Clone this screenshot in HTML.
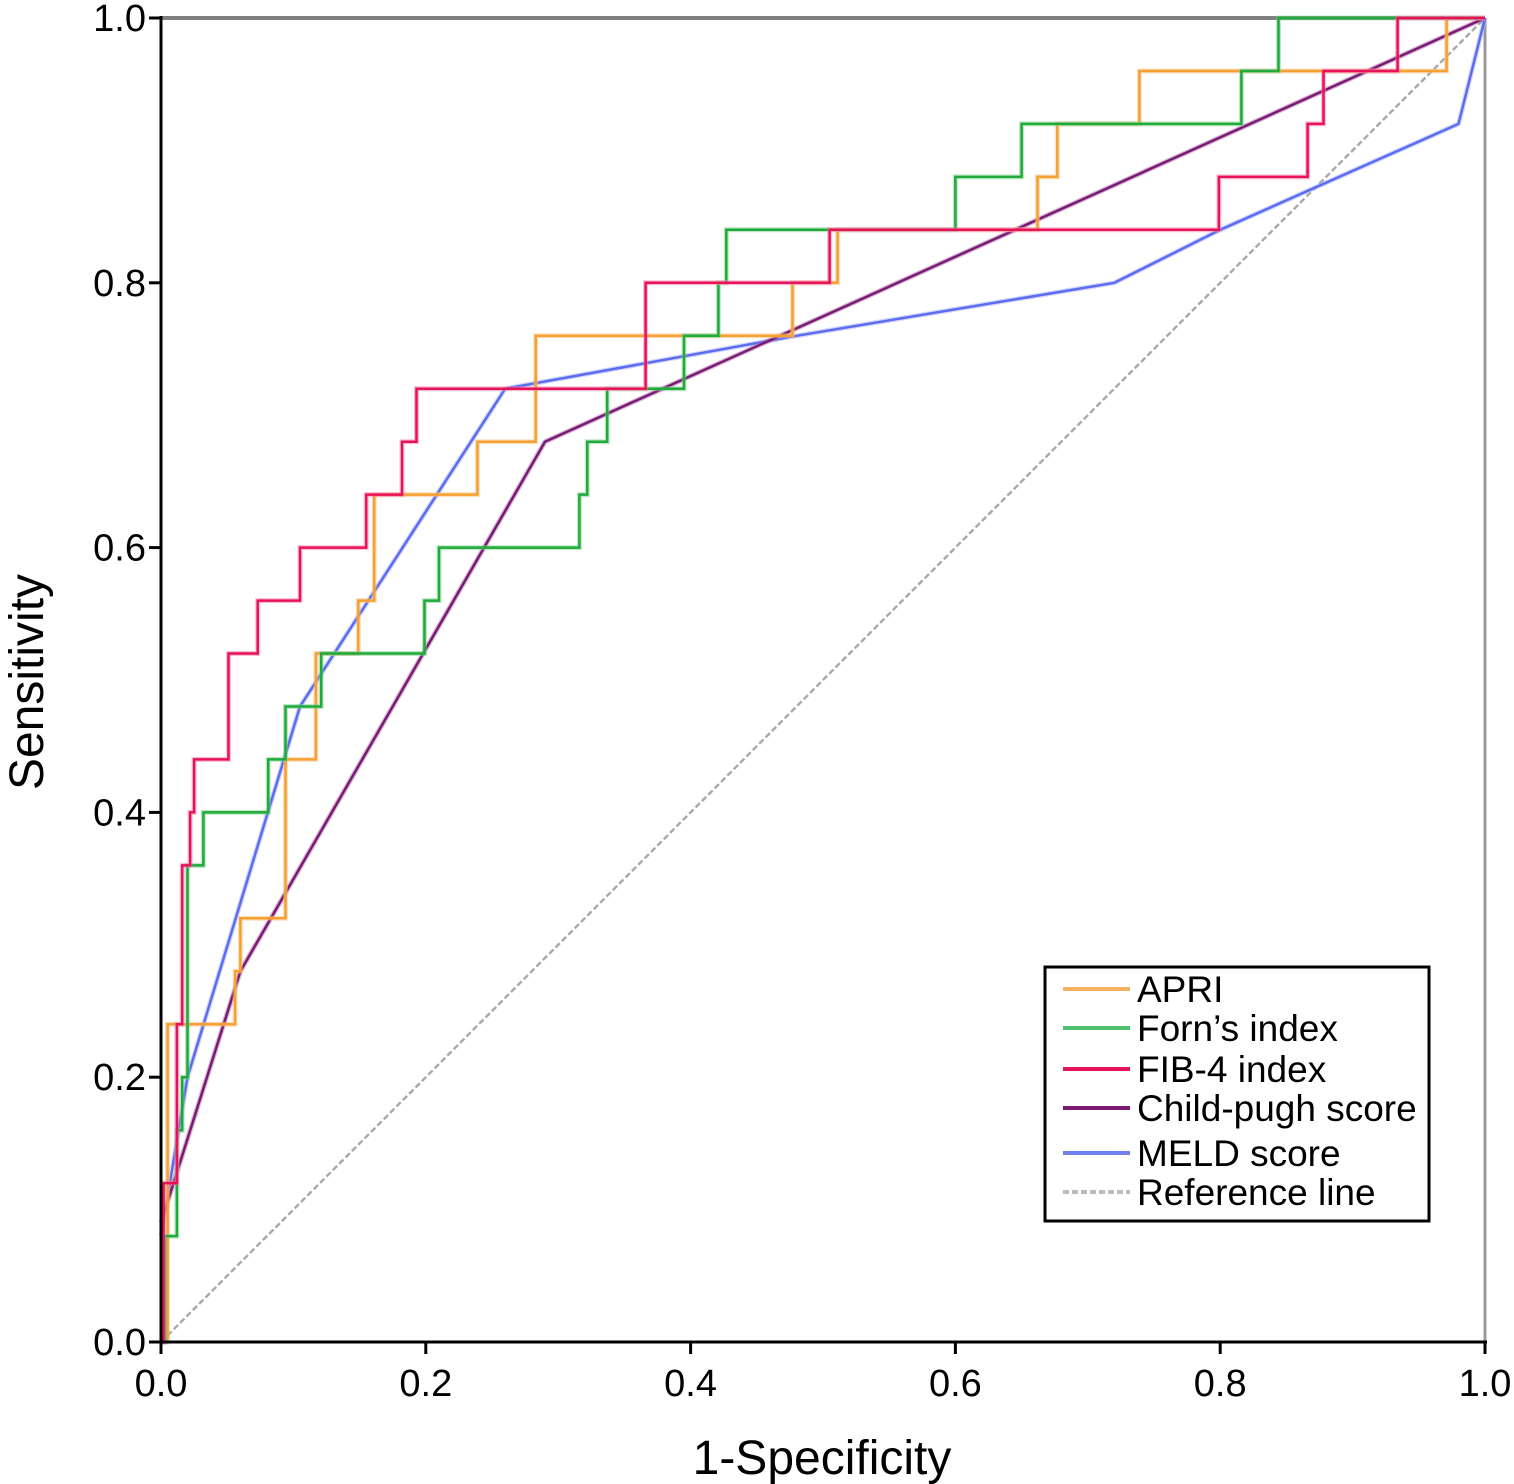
<!DOCTYPE html>
<html><head><meta charset="utf-8"><style>
html,body{margin:0;padding:0;background:#fff;}
svg{display:block;font-family:"Liberation Sans",Arial,sans-serif;}
</style></head><body>
<svg id="chart" width="1514" height="1484" viewBox="0 0 1514 1484" xmlns="http://www.w3.org/2000/svg"></svg>
<script>
const ticks=[0,0.2,0.4,0.6,0.8,1.0];
const tickLabels=["0.0","0.2","0.4","0.6","0.8","1.0"];
const seriesNames=["APRI","Forn’s index","FIB-4 index","Child-pugh score","MELD score","Reference line"];
// step curves: x where each level starts, and the level (sensitivity)
const apriX=[0,0.005,0.056,0.06,0.094,0.117,0.149,0.161,0.239,0.283,0.477,0.511,0.662,0.677,0.739,0.971];
const apriY=[0,0.24,0.28,0.32,0.44,0.52,0.56,0.64,0.68,0.76,0.80,0.84,0.88,0.92,0.96,1.0];
const fornX=[0,0.003,0.012,0.016,0.02,0.032,0.081,0.094,0.121,0.199,0.21,0.316,0.322,0.337,0.395,0.421,0.427,0.6,0.65,0.816,0.844];
const fornY=[0,0.08,0.16,0.20,0.36,0.40,0.44,0.48,0.52,0.56,0.60,0.64,0.68,0.72,0.76,0.80,0.84,0.88,0.92,0.96,1.0];
const fibX=[0,0.002,0.012,0.016,0.022,0.025,0.051,0.073,0.105,0.155,0.182,0.193,0.366,0.505,0.799,0.866,0.878,0.934];
const fibY=[0,0.12,0.24,0.36,0.40,0.44,0.52,0.56,0.60,0.64,0.68,0.72,0.80,0.84,0.88,0.92,0.96,1.0];
const childX=[0,0.06,0.29,1];
const childY=[0.09,0.28,0.68,1];
const meldX=[0,0.02,0.105,0.26,0.48,0.72,0.8,0.98,1];
const meldY=[0.08,0.2,0.48,0.72,0.76,0.80,0.84,0.92,1];
const refX=[0,1];
const refY=[0,1];

const svg=document.getElementById('chart');
const NS='http://www.w3.org/2000/svg';
const X0=161,X1=1485,Y0=1342,Y1=18;
const sx=v=>X0+v*(X1-X0);
const sy=v=>Y0-v*(Y0-Y1);
function mk(tag,attrs,parent){const e=document.createElementNS(NS,tag);for(const k in attrs)e.setAttribute(k,attrs[k]);(parent||svg).appendChild(e);return e;}
function stepPts(xs,ys){
  const p=[];
  for(let i=0;i<xs.length;i++){
    if(i>0) p.push([xs[i],ys[i-1]]);
    p.push([xs[i],ys[i]]);
  }
  p.push([1,ys[ys.length-1]]);
  return p;
}
function linePts(xs,ys){return xs.map((x,i)=>[x,ys[i]]);}

const topBorder=mk('line',{x1:X0,y1:Y1,x2:X1,y2:Y1,stroke:'#808080','stroke-width':4});


const rightBorder=mk('line',{x1:X1,y1:Y1,x2:X1,y2:Y0,stroke:'#999','stroke-width':3});



const ref=mk('polyline',{points:refX.map((x,i)=>sx(x)+','+sy(refY[i])).join(' '),fill:'none',stroke:'#aaa','stroke-width':2.5,'stroke-dasharray':'6,3'});



function series(p,color,halo,name){
  const pts=p.map(q=>sx(q[0]).toFixed(1)+','+sy(q[1]).toFixed(1)).join(' ');
  const g=mk('g',{});
  
  
  mk('polyline',{points:pts,fill:'none',stroke:halo,'stroke-width':5,'stroke-opacity':0.5},g);
  mk('polyline',{points:pts,fill:'none',stroke:color,'stroke-width':2.5},g);
}
series(linePts(meldX,meldY),'#5a6cf0','#a8b0ff','meld-curve');
series(linePts(childX,childY),'#7a1a70','#b070b0','child-pugh-curve');
series(stepPts(apriX,apriY),'#f5a030','#f8c080','apri-curve');
series(stepPts(fornX,fornY),'#1faa3a','#80d090','forns-curve');
series(stepPts(fibX,fibY),'#e8125a','#f880a8','fib4-curve');

const ax=mk('line',{x1:X0,y1:Y1-2,x2:X0,y2:Y0+2,stroke:'#000','stroke-width':3});


const bx=mk('line',{x1:X0-1,y1:Y0,x2:X1+2,y2:Y0,stroke:'#000','stroke-width':3});



ticks.forEach((t,i)=>{
  const yt=mk('line',{x1:X0-12,y1:sy(t),x2:X0,y2:sy(t),stroke:'#000','stroke-width':3});
  
  
  const yl=mk('text',{x:X0-15,y:sy(t)+13,'text-anchor':'end','font-size':38});
  yl.textContent=tickLabels[i];
  
  
  const xt=mk('line',{x1:sx(t),y1:Y0,x2:sx(t),y2:Y0+12,stroke:'#000','stroke-width':3});
  
  
  const xl=mk('text',{x:sx(t),y:Y0+54,'text-anchor':'middle','font-size':38});
  xl.textContent=tickLabels[i];
  
  
});

const xtitle=mk('text',{x:822,y:1474,'text-anchor':'middle','font-size':48});
xtitle.textContent='1-Specificity';


const ytitle=mk('text',{x:0,y:0,'text-anchor':'middle','font-size':48,transform:'translate(43,682) rotate(-90)'});
ytitle.textContent='Sensitivity';



const lg=mk('g',{});


mk('rect',{x:1045,y:967,width:384,height:254,fill:'#fff',stroke:'#000','stroke-width':3},lg);
const legColors=['#f5b060','#50c070','#e8125a','#7a1a70','#7080f0','#bbb'];
const legY=[989,1028,1069,1108,1153,1192];
seriesNames.forEach((n,i)=>{
  const e=mk('g',{},lg);
  
  
  const ln=mk('line',{x1:1063,y1:legY[i],x2:1130,y2:legY[i],stroke:legColors[i],'stroke-width':4},e);
  if(i===5) ln.setAttribute('stroke-dasharray','6,3');
  const t=mk('text',{x:1137,y:legY[i]+13,'font-size':37},e);
  t.textContent=n;
});
</script>
</body></html>
